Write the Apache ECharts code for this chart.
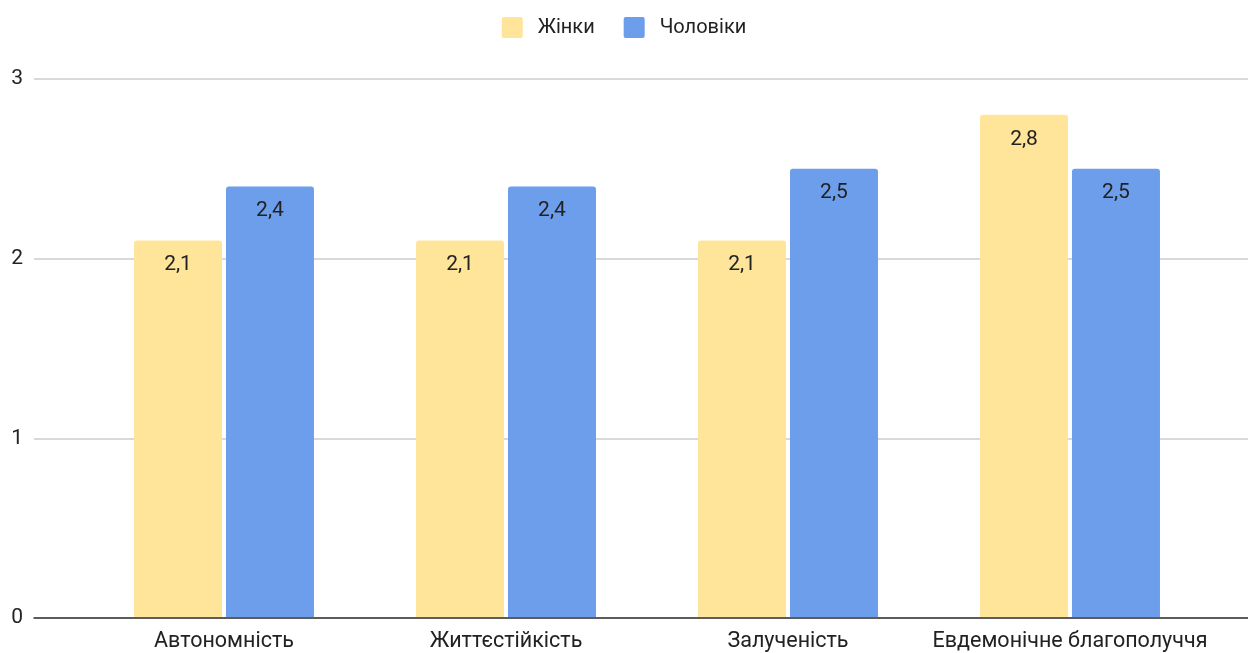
<!DOCTYPE html>
<html><head><meta charset="utf-8">
<script src="https://cdn.jsdelivr.net/npm/echarts@6/dist/echarts.min.js"></script>
<style>html,body{margin:0;padding:0;background:#fff}#c{width:1248px;height:653px}</style>
</head><body><div id="c"></div>
<script>
const categories = ['Автономність', 'Життєстійкість', 'Залученість', 'Евдемонічне благополуччя'];
const women = [2.1, 2.1, 2.1, 2.8];
const men = [2.4, 2.4, 2.5, 2.5];
const seriesNames = ['Жінки', 'Чоловіки'];
const yMin = 0, yMax = 3, yStep = 1;

const FONT = 'Roboto, "Noto Sans", sans-serif';
const chart = echarts.init(document.getElementById('c'), null, {renderer: 'canvas'});
const lbl = {
  show: true, position: 'insideTop', distance: 14, color: '#222', fontSize: 21, fontFamily: FONT,
  formatter: p => String(p.value).replace('.', ',')
};
chart.setOption({
  animation: false,
  textStyle: {fontFamily: FONT},
  legend: {
    top: 12, left: 'center', itemWidth: 21, itemHeight: 21, itemGap: 29,
    icon: 'path://M2,0 H19 Q21,0 21,2 V19 Q21,21 19,21 H2 Q0,21 0,19 V2 Q0,0 2,0 Z',
    textStyle: {fontSize: 20, color: '#222', fontFamily: FONT, padding: [0, 0, 0, 10], lineHeight: 21},
    data: seriesNames
  },
  grid: [
    {left: 83, right: 37, top: 79, bottom: 35},
    {left: 34, right: 0, top: 79, bottom: 35}
  ],
  xAxis: [
    {type: 'category', gridIndex: 0, data: categories,
     axisLine: {show: false}, axisTick: {show: false},
     axisLabel: {fontSize: 21.5, color: '#222', margin: 14, fontFamily: FONT, interval: 0}},
    {type: 'category', gridIndex: 1, data: [''],
     axisLine: {show: true, lineStyle: {color: '#333', width: 1.5}}, axisTick: {show: false},
     axisLabel: {show: false}}
  ],
  yAxis: [
    {type: 'value', gridIndex: 0, min: yMin, max: yMax, interval: yStep,
     axisLabel: {show: false}, splitLine: {show: false}, axisLine: {show: false}, axisTick: {show: false}},
    {type: 'value', gridIndex: 1, min: yMin, max: yMax, interval: yStep,
     axisLabel: {fontSize: 21, color: '#222', margin: 11, fontFamily: FONT},
     splitLine: {lineStyle: {color: '#cccccc', width: 1.5}},
     axisLine: {show: false}, axisTick: {show: false}}
  ],
  series: [
    {name: seriesNames[0], type: 'bar', xAxisIndex: 0, yAxisIndex: 0, data: women,
     barWidth: 88, barGap: '4.5%', z: 3,
     itemStyle: {color: '#ffe599', borderRadius: [3, 3, 0, 0]}, label: lbl},
    {name: seriesNames[1], type: 'bar', xAxisIndex: 0, yAxisIndex: 0, data: men,
     barWidth: 88, barGap: '4.5%', z: 3,
     itemStyle: {color: '#6d9eeb', borderRadius: [3, 3, 0, 0]}, label: lbl}
  ]
});
</script></body></html>
